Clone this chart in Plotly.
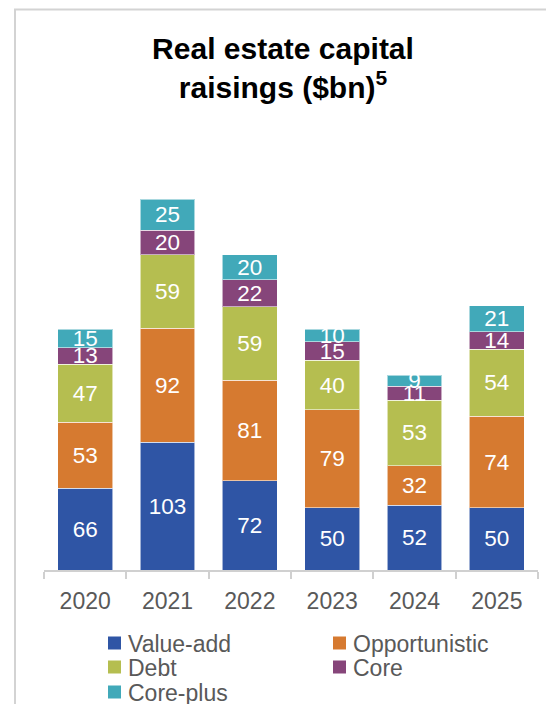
import plotly.graph_objects as go

# Fund-raising by strategy, $bn
years = ["2020", "2021", "2022", "2023", "2024", "2025"]
value_add = [66, 103, 72, 50, 52, 50]
opportunistic = [53, 92, 81, 79, 32, 74]
debt = [47, 59, 59, 40, 53, 54]
core = [13, 20, 22, 15, 11, 14]
core_plus = [15, 25, 20, 10, 9, 21]

series_names = ["Value-add", "Opportunistic", "Debt", "Core", "Core-plus"]
series_values = [value_add, opportunistic, debt, core, core_plus]
series_colors = ["#2F55A5", "#D67A30", "#B5BE50", "#86457A", "#41A9B9"]

FONT = "Liberation Sans, Arial, sans-serif"
GREY_TEXT = "#595959"

fig = go.Figure()
for name, vals, color in zip(series_names, series_values, series_colors):
    fig.add_trace(go.Bar(
        x=years, y=vals, name=name,
        marker=dict(color=color, line=dict(color="rgba(255,255,255,0.55)", width=1)),
        text=[str(v) for v in vals],
        textposition="inside",
        insidetextanchor="middle",
        textangle=0,
        constraintext="none",
        textfont=dict(family=FONT, size=22.5, color="white"),
        showlegend=False,
    ))

# Plot area geometry (pixels)
W, H = 546, 704
ML, MR, MT, MB = 44, 8, 173, 134
pw, ph = W - ML - MR, H - MT - MB


def px_x(p):
    return (p - ML) / pw


def px_y(p):
    return (H - MB - p) / ph


# Frame around the whole panel
shapes = [
    dict(
        type="rect", xref="paper", yref="paper",
        x0=px_x(15), x1=px_x(600), y0=px_y(760), y1=px_y(9.5),
        line=dict(color="#D3D3D3", width=2), fillcolor="rgba(0,0,0,0)",
        layer="below",
    )
]
annotations = []

# Two-column legend laid out below the axis
col_x = [108, 333]
row_y = [643, 667, 692]
SW = 13
for i, (name, color) in enumerate(zip(series_names, series_colors)):
    cx = col_x[i % 2]
    cy = row_y[i // 2]
    shapes.append(dict(
        type="rect", xref="paper", yref="paper",
        x0=px_x(cx), x1=px_x(cx + SW), y0=px_y(cy + SW / 2), y1=px_y(cy - SW / 2),
        line=dict(width=0), fillcolor=color,
    ))
    annotations.append(dict(
        text=name, xref="paper", yref="paper",
        x=px_x(cx + SW + 5), y=px_y(cy + 1), xanchor="left", yanchor="middle",
        showarrow=False,
        font=dict(family=FONT, size=23, color=GREY_TEXT),
    ))

fig.update_layout(
    width=W, height=H,
    margin=dict(l=ML, r=MR, t=MT, b=MB, autoexpand=False),
    barmode="stack",
    bargap=0.333,
    paper_bgcolor="white",
    plot_bgcolor="white",
    uniformtext=dict(minsize=22, mode="show"),
    font=dict(family=FONT, color=GREY_TEXT),
    title=dict(
        text="Real estate capital<br>raisings ($bn)<sup>5</sup>",
        font=dict(family=FONT, size=30, color="black", weight="bold"),
        x=283 / W, xref="container", xanchor="center",
        y=1 - 59 / H, yref="container", yanchor="top",
    ),
    xaxis=dict(
        showline=True, linecolor="#D0D0D0", linewidth=1.5,
        ticks="outside", tickson="boundaries", ticklen=7, tickcolor="#D0D0D0", tickwidth=1.5,
        ticklabelstandoff=10,
        tickfont=dict(family=FONT, size=23, color=GREY_TEXT),
        showgrid=False,
    ),
    yaxis=dict(visible=False, range=[0, 320]),
    shapes=shapes,
    annotations=annotations,
    showlegend=False,
)

fig.write_html("out.html")
